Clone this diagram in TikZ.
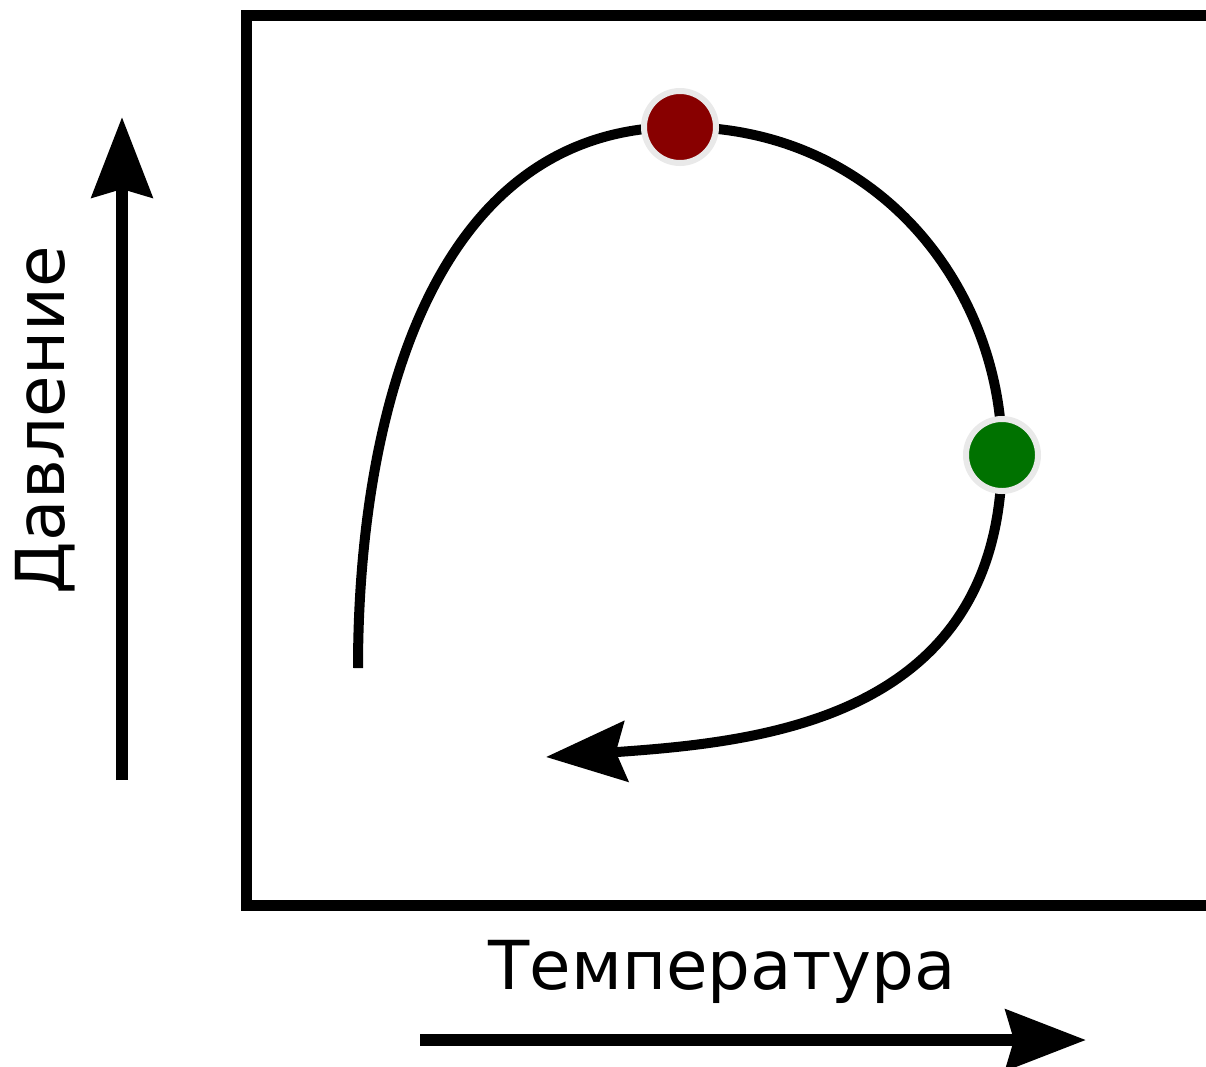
\documentclass[tikz,border=0pt]{standalone}
\usepackage{fontspec}
\setmainfont{DejaVu Sans}
\usepackage{tikz}
\usetikzlibrary{arrows.meta,positioning}
\definecolor{PeakRed}{HTML}{880000}
\definecolor{PointGreen}{HTML}{007200}
\definecolor{RingGray}{HTML}{E9E9E9}
\tikzset{
  % Frame
  FR/.style={line width=0.275cm},
  % Arrows
  ax/.style={line width=0.3cm,-{Stealth[length=2cm,width=1.5cm,inset=0.2cm]}},
  cv/.style={line width=0.25cm,-{Stealth[length=2cm,width=1.5cm,inset=0.25cm]}},
  % Dots
  DT/.style={circle,minimum size=1.8cm,inner sep=0pt,draw=RingGray,line width=0.15cm},
  dR/.style={DT,fill=PeakRed},
  dG/.style={DT,fill=PointGreen},
  % Labels
  LB/.style={font=\fontsize{48}{58}\selectfont,inner sep=0pt}
}
\begin{document}
\begin{tikzpicture}[x=0.025cm,y=-0.025cm]
  \clip (0,0) rectangle (1206,1067);
  \draw[FR] (246.5,15.5) rectangle (1240,905);

  % axes
  \coordinate (yb) at (122,780);
  \coordinate (yt) at (122,117);
  \coordinate (xl) at (420,1040);
  \coordinate (xr) at (1086,1040);
  \draw[ax] (yb) -- (yt);
  \draw[ax] (xl) -- (xr);
  \node[LB,rotate=90] (pres) at (45,420) {Давление};
  \node[LB] (temp) at (722,972) {Температура};

  % curve
  \coordinate (st) at (358,668);
  \coordinate (top) at (680,127);
  \coordinate (rt) at (1002,455);
  \coordinate (end) at (546,757);
  \draw[line width=0.25cm] (st) .. controls (358,440) and (420,127) .. (top)
        .. controls (880,127) and (1002,290) .. (rt);
  \draw[cv] (rt) .. controls (1002,720) and (760,742) .. (end);

  \node[dR] (crit) at (top) {};
  \node[dG] (pt) at (rt) {};
\end{tikzpicture}
\end{document}
